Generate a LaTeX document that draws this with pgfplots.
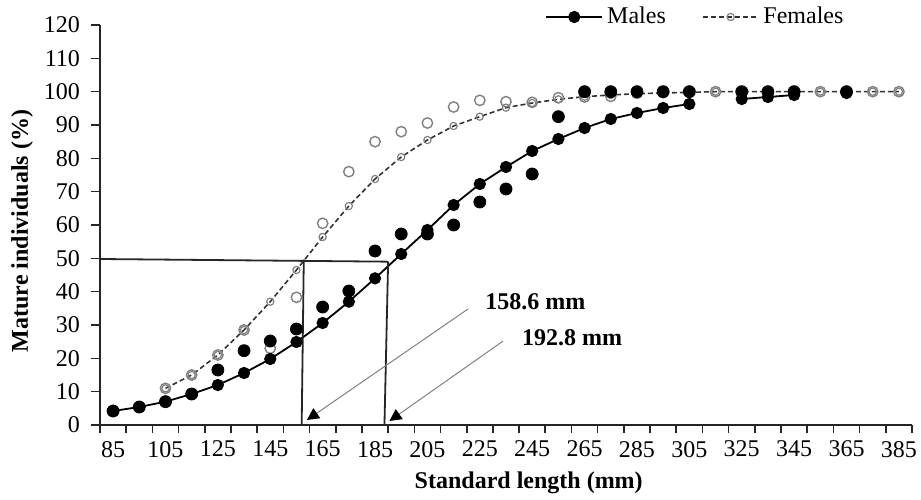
\documentclass[border=0pt]{standalone}
\usepackage{fontspec}
\setmainfont{Liberation Serif}
\usepackage{pgfplots}
\pgfplotsset{compat=1.18}
\usetikzlibrary{arrows.meta,calc}

% fitted logistic curves (lines with markers) and observed proportions (markers only)
\pgfplotstableread{
x y
85 4.2
95 5.4
105 7.0
115 9.3
125 12.0
135 15.6
145 19.8
155 24.9
165 30.6
175 37.0
185 44.0
195 51.3
205 58.5
215 66.0
225 72.3
235 77.4
245 82.2
255 85.8
265 89.1
275 91.8
285 93.6
295 95.1
305 96.3
315 nan
325 97.8
335 98.4
345 99.0
355 nan
365 99.6
}\malefit

\pgfplotstableread{
x y
85 4.2
95 5.4
105 7.0
115 9.3
125 16.5
135 22.3
145 25.2
155 28.8
165 35.4
175 40.2
185 52.2
195 57.3
205 57.3
215 60.0
225 66.9
235 70.8
245 75.3
255 92.5
265 100
275 100
285 100
295 100
305 100
325 100
335 100
345 100
365 100
}\maleobs

\pgfplotstableread{
x y
105 11.0
115 15.0
125 21.0
135 28.5
145 37.0
155 46.5
165 56.4
175 65.7
185 73.8
195 80.4
205 85.5
215 89.7
225 92.5
235 95.2
245 96.6
255 97.7
265 98.5
275 99.0
285 99.4
295 99.6
305 99.8
315 100
325 100
335 100
345 100
355 100
365 100
375 100
385 100
}\femfit

\pgfplotstableread{
x y
105 11.0
115 15.0
125 21.0
135 28.5
145 23.0
155 38.3
165 60.5
175 76.0
185 85.0
195 88.0
205 90.6
215 95.4
225 97.4
235 97.0
245 96.8
255 98.2
265 98.4
275 98.6
285 99.5
295 99.7
305 100
315 100
325 100
335 100
345 100
355 100
365 100
375 100
385 100
}\femobs

\pgfplotsset{
  malefitstyle/.style={black, line width=0.9pt, mark=*, mark size=2.6pt},
  maleobsstyle/.style={only marks, black, mark=*, mark size=3pt},
  femfitstyle/.style={black!80, line width=0.8pt, dash pattern=on 2.5pt off 1.5pt,
    mark=o, mark size=1.8pt, mark options={solid, draw=gray, line width=0.6pt}},
  femobsstyle/.style={only marks, mark=o, mark size=2.6pt, gray,
    mark options={line width=0.7pt}},
}

\begin{document}
\begin{tikzpicture}
\begin{axis}[
  scale only axis, width=406pt, height=200pt,
  xmin=80, xmax=390, ymin=0, ymax=120,
  axis lines*=left,
  axis line style={line width=0.9pt, black!85},
  xtick={85,105,...,385},
  minor xtick={80,90,...,390},
  major x tick style={draw=none},
  minor tick length=4pt,
  ytick={0,10,...,120},
  major tick length=4.5pt,
  tick align=outside,
  tick style={line width=0.8pt, black!85},
  yticklabel style={xshift=-2pt},
  font=\fontsize{12}{14}\selectfont,
  /pgf/number format/assume math mode=true,
  /pgf/number format/1000 sep={},
  xlabel={\bfseries Standard length (mm)},
  ylabel={\bfseries Mature individuals (\%)},
  xlabel style={at={(axis description cs:0.528,-0.145)}, anchor=center},
  ylabel style={at={(axis description cs:-0.096,0.485)}, anchor=center},
  clip=false,
  unbounded coords=jump,
  legend style={at={(axis description cs:0.548,1.02)}, anchor=west, draw=none, fill=none,
    legend columns=2, inner sep=0pt, font=\fontsize{12}{14}\selectfont,
    /tikz/every even column/.append style={column sep=16pt}},
  legend image code/.code={\draw[mark repeat=2,mark phase=2,#1]
    plot coordinates {(0pt,0pt) (14pt,0pt) (28pt,0pt)};},
]
\addlegendimage{malefitstyle}
\addlegendentry{Males}
\addlegendimage{femfitstyle}
\addlegendentry{Females}

\addplot[femfitstyle, forget plot] table {\femfit};
\addplot[femobsstyle, forget plot] table {\femobs};
\addplot[malefitstyle, forget plot] table {\malefit};
\addplot[maleobsstyle, forget plot] table {\maleobs};

% L50 reference lines
\draw[line width=0.9pt, black!85] (axis cs:80,49.8) -- (axis cs:190,49);
\draw[line width=0.9pt, black!85] (axis cs:157.8,49.6) -- (axis cs:157,0);
\draw[line width=0.9pt, black!85] (axis cs:190,49) -- (axis cs:188.6,0);

\draw[gray, line width=0.5pt, -{Triangle[length=6pt,width=6pt,fill=black,color=black]}]
  (axis cs:220.5,34.8) -- (axis cs:159,1.5);
\draw[gray, line width=0.5pt, -{Triangle[length=6pt,width=6pt,fill=black,color=black]}]
  (axis cs:233.9,25.2) -- (axis cs:190.5,1.2);
\node[anchor=west, inner sep=0pt, font=\bfseries\fontsize{12}{14}\selectfont]
  at (axis cs:227,36.9) {158.6 mm};
\node[anchor=west, inner sep=0pt, font=\bfseries\fontsize{12}{14}\selectfont]
  at (axis cs:241,26.1) {192.8 mm};
\end{axis}
\pgfresetboundingbox
\path ($(current axis.south west)+(-50pt,-37pt)$) rectangle ($(current axis.south west)+(410.5pt,212.5pt)$);
\end{tikzpicture}
\end{document}
